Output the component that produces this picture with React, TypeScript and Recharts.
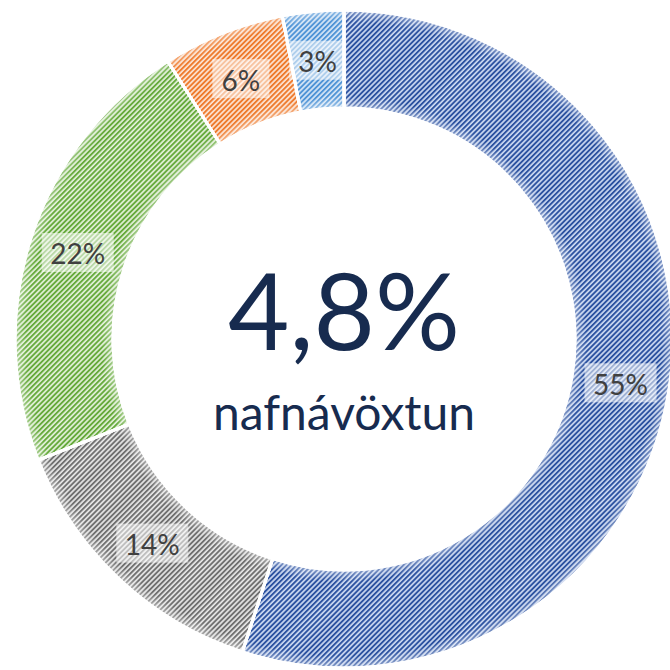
import { PieChart, Pie, Cell } from "recharts";

// share of each slice, clockwise from 12 o'clock
const categories = ["Flokkur A", "Flokkur B", "Flokkur C", "Flokkur D", "Flokkur E"];
const shares = [55, 14, 22, 6, 3];
const labels = ["55%", "14%", "22%", "6%", "3%"];
const centerValue = "4,8%";
const centerCaption = "nafnávöxtun";

const stripeColors = ["#2c52a0", "#707070", "#66aa3c", "#ee7a2c", "#4f94d6"];
const backColors = ["#cbd8f1", "#e6e6e6", "#e2f0d8", "#fce3d2", "#d5e5f6"];

const data = categories.map((name, i) => ({ name, value: shares[i], label: labels[i] }));

const CX = 344;
const CY = 339;
const INNER = 231;
const OUTER = 329;
const RADIAN = Math.PI / 180;

function SliceLabel(props: any) {
  const { cx, cy, midAngle, innerRadius, outerRadius, index } = props;
  const r = (innerRadius + outerRadius) / 2;
  const x = cx + r * Math.cos(-midAngle * RADIAN);
  const y = cy + r * Math.sin(-midAngle * RADIAN);
  const text = labels[index];
  const w = text.length * 15 + 27;
  const h = 39;
  return (
    <g>
      <rect x={x - w / 2} y={y - h / 2} width={w} height={h} fill="#fff" fillOpacity={0.55} />
      <text
        x={x}
        y={y + 1}
        textAnchor="middle"
        dominantBaseline="central"
        fill="#404040"
        fontSize={28}
        fontFamily="Lato, 'Noto Sans', sans-serif"
      >
        {text}
      </text>
    </g>
  );
}

export default function App() {
  return (
    <div style={{ position: "fixed", left: 0, top: 0, width: 670, height: 670, background: "#fff" }}>
      <PieChart width={670} height={670} margin={{ top: 0, right: 0, bottom: 0, left: 0 }}>
        <defs>
          {stripeColors.map((c, i) => (
            <pattern
              key={i}
              id={`hatch${i}`}
              width={3.6}
              height={3.6}
              patternUnits="userSpaceOnUse"
              patternTransform="rotate(45)"
            >
              <rect width={3.6} height={3.6} fill={backColors[i]} />
              <rect width={1.9} height={3.6} fill={c} />
            </pattern>
          ))}
          <radialGradient id="edgeGlow" gradientUnits="userSpaceOnUse" cx={CX} cy={CY} r={OUTER}>
            <stop offset={INNER / OUTER} stopColor="#fff" stopOpacity={0.45} />
            <stop offset={(INNER + 12) / OUTER} stopColor="#fff" stopOpacity={0} />
            <stop offset={(OUTER - 12) / OUTER} stopColor="#fff" stopOpacity={0} />
            <stop offset={1} stopColor="#fff" stopOpacity={0.45} />
          </radialGradient>
        </defs>
        <Pie
          data={data}
          dataKey="value"
          cx={CX}
          cy={CY}
          innerRadius={INNER}
          outerRadius={OUTER}
          startAngle={90}
          endAngle={-270}
          stroke="#fff"
          strokeWidth={3}
          isAnimationActive={false}
        >
          {data.map((_, i) => (
            <Cell key={i} fill={`url(#hatch${i})`} />
          ))}
        </Pie>
        <Pie
          data={data}
          dataKey="value"
          cx={CX}
          cy={CY}
          innerRadius={INNER}
          outerRadius={OUTER}
          startAngle={90}
          endAngle={-270}
          stroke="#fff"
          strokeWidth={3}
          fill="url(#edgeGlow)"
          label={SliceLabel}
          labelLine={false}
          isAnimationActive={false}
        />
        <text
          x={CX}
          y={350}
          textAnchor="middle"
          fill="#172b4f"
          fontSize={106}
          fontFamily="Lato, 'Noto Sans', sans-serif"
        >
          {centerValue}
        </text>
        <text
          x={CX}
          y={430}
          textAnchor="middle"
          fill="#172b4f"
          fontSize={48}
          fontFamily="Lato, 'Noto Sans', sans-serif"
        >
          {centerCaption}
        </text>
      </PieChart>
    </div>
  );
}
